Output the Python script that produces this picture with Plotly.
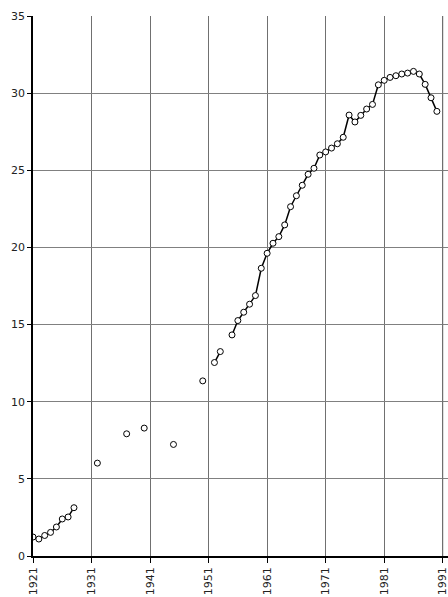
import plotly.graph_objects as go

years = [1921, 1922, 1923, 1924, 1925, 1926, 1927, 1928, 1932, 1937, 1940, 1945,
         1950, 1952, 1953, 1955, 1956, 1957, 1958, 1959, 1960, 1961, 1962, 1963,
         1964, 1965, 1966, 1967, 1968, 1969, 1970, 1971, 1972, 1973, 1974, 1975,
         1976, 1977, 1978, 1979, 1980, 1981, 1982, 1983, 1984, 1985, 1986, 1987,
         1988, 1989, 1990]
values = [1.23, 1.10, 1.33, 1.53, 1.88, 2.40, 2.53, 3.13, 6.02, 7.92, 8.29, 7.23,
          11.35, 12.54, 13.25, 14.33, 15.26, 15.80, 16.32, 16.88, 18.65, 19.62, 20.27, 20.70,
          21.46, 22.64, 23.35, 24.03, 24.74, 25.13, 25.99, 26.19, 26.44, 26.72, 27.14, 28.58,
          28.13, 28.56, 28.97, 29.27, 30.54, 30.83, 31.02, 31.13, 31.24, 31.30, 31.41, 31.24,
          30.57, 29.70, 28.82]
x_ticks = [1921, 1931, 1941, 1951, 1961, 1971, 1981, 1991]
y_ticks = [0, 5, 10, 15, 20, 25, 30, 35]

GRID = "#707070"

# full yearly series with gaps where no observation exists
lookup = dict(zip(years, values))
all_years = list(range(years[0], years[-1] + 1))
all_vals = [lookup.get(y) for y in all_years]

fig = go.Figure()
# gridline at the last tick, drawn as a trace so it is not dropped near the edge
fig.add_trace(go.Scatter(
    x=[x_ticks[-1], x_ticks[-1]], y=[y_ticks[0], y_ticks[-1]], mode="lines",
    line=dict(color=GRID, width=1), showlegend=False, hoverinfo="skip",
    cliponaxis=False))
fig.add_trace(go.Scatter(
    x=all_years, y=all_vals, mode="lines+markers", connectgaps=False,
    line=dict(color="black", width=1.5),
    marker=dict(symbol="circle", size=6, color="white",
                line=dict(color="black", width=1)),
    showlegend=False, hoverinfo="x+y"))

fig.update_layout(
    width=448, height=597,
    margin=dict(l=33, r=0, t=16, b=41, autoexpand=False),
    paper_bgcolor="white", plot_bgcolor="white",
    font=dict(family="DejaVu Sans", size=11, color="#222222"),
    xaxis=dict(range=[1921, 1991.9], tickmode="array", tickvals=x_ticks,
               ticktext=[str(t) for t in x_ticks], tickangle=-90,
               ticklabeloverflow="allow",
               showgrid=True, gridcolor=GRID, gridwidth=1,
               showline=True, linecolor="black", linewidth=1.5,
               ticks="outside", ticklen=5, tickcolor="black",
               zeroline=False, automargin=False),
    yaxis=dict(range=[0, 35], tickmode="array", tickvals=y_ticks,
               ticklabeloverflow="allow",
               showgrid=True, gridcolor="#808080", gridwidth=1,
               showline=True, linecolor="black", linewidth=1.5,
               ticks="outside", ticklen=4, tickcolor="black",
               zeroline=False, automargin=False),
)

# remove the default page margin so the figure fills the window exactly
fig.write_html("out.html", config={"displayModeBar": False},
               post_script="document.body.style.margin='0';document.body.style.overflow='hidden';")
